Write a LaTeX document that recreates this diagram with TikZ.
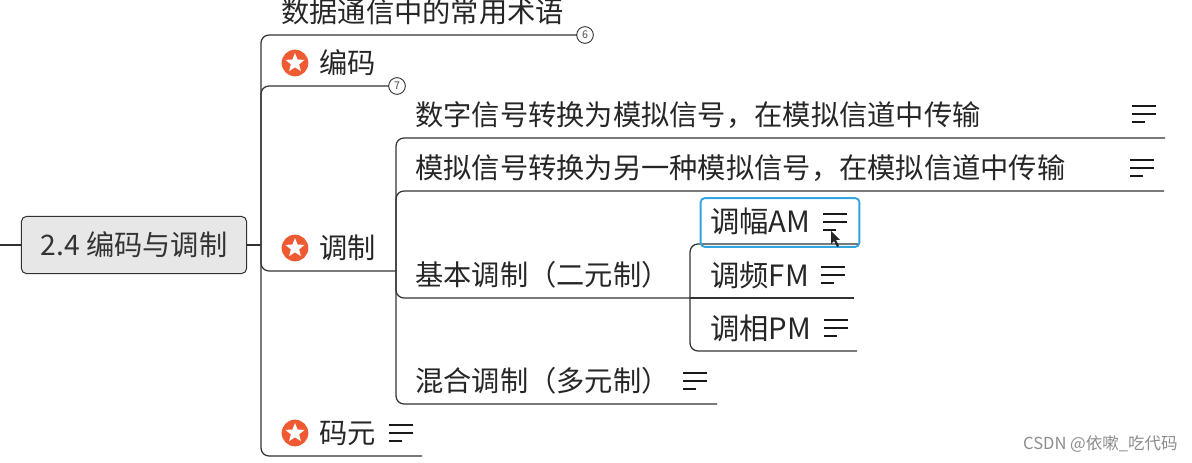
\documentclass[tikz,border=0pt]{standalone}
\usepackage{fontspec}
\setmainfont{Noto Sans CJK SC}
\usepackage{xcolor}
\usetikzlibrary{shapes.geometric}
\definecolor{lineC}{RGB}{50,50,50}
\definecolor{rootbg}{RGB}{231,231,231}
\definecolor{starC}{RGB}{240,90,50}
\definecolor{selC}{RGB}{50,165,225}
\tikzset{
  topic/.style={anchor=west,inner sep=0pt,font=\fontsize{21.2}{24}\selectfont,text=black!85},
  subtopic/.style={topic,font=\fontsize{21.2}{24}\selectfont},
  leaftopic/.style={topic,font=\fontsize{22}{24}\selectfont},
  root/.style={rounded corners=4pt,draw=lineC,fill=rootbg,line width=0.75pt,
               minimum width=169pt,minimum height=43pt,inner sep=0pt,
               font=\fontsize{21.2}{24}\selectfont,text=black!80},
  branch/.style={draw=lineC,line width=0.95pt,rounded corners=6pt},
  fold/.style={circle,draw=lineC,fill=white,line width=0.7pt,minimum size=12.5pt,inner sep=0pt,
               font=\fontsize{8}{8}\selectfont,text=black!70},
  badge/.style={circle,fill=starC,minimum size=20pt,inner sep=0pt},
  badgestar/.style={star,star points=5,star point ratio=2.3,fill=white,minimum size=15pt,inner sep=0pt},
  selbox/.style={rounded corners=3pt,draw=selC,line width=1.4pt,minimum width=119pt,minimum height=36.5pt,inner sep=0pt},
  notes/.pic={
    \draw[line width=1.2pt,black!90] (-12,-8) -- (12,-8) (-12,0) -- (12,0) (-12,8) -- (1,8);
  },
  mark text/.style={anchor=east,inner sep=0pt,font=\fontsize{12.4}{15}\selectfont,text=black!45},
}
\begin{document}
\begin{tikzpicture}[x=0.75pt,y=-0.75pt]
  \useasboundingbox (0,0) rectangle (1192,463);
  % root and level one
  \coordinate (stub) at (0,245);
  \node[root] (rt) at (134,245) {2.4 编码与调制};
  \coordinate (trunk) at (261,245);
  \coordinate (l1a) at (577,35);
  \coordinate (l1b) at (390,86);
  \coordinate (l1c) at (396,271);
  \coordinate (l1d) at (422,456);
  \draw[draw=lineC,line width=0.95pt] (stub) -- (rt.west) (rt.east) -- (trunk);
  \draw[branch] (trunk) |- (l1a);
  \draw[branch] (trunk) |- (l1b);
  \draw[branch] (trunk) |- (l1c);
  \draw[branch] (trunk) |- (l1d);
  \node[fold] (f6) at (585,35) {6};
  \node[fold] (f7) at (397,86) {7};
  % level two
  \coordinate (l2a) at (1165,138);
  \coordinate (l2b) at (1164,191);
  \coordinate (l2c) at (690,298);
  \coordinate (l2d) at (717,404);
  \draw[branch] (l1c) |- (l2a);
  \draw[branch] (l1c) |- (l2b);
  \draw[branch] (l1c) |- (l2d);
  \draw[branch] (l1c) |- (l2c);
  % level three
  \coordinate (l3a) at (858,244);
  \coordinate (l3b) at (854,298);
  \coordinate (l3c) at (857,351);
  \draw[branch] (l2c) |- (l3a);
  \draw[draw=lineC,line width=0.95pt] (l2c) -- (l3b);
  \draw[branch] (l2c) |- (l3c);
  \node[selbox] (sel) at (780,222.5) {};
  % texts
  \node[topic] (title) at (281,12) {数据通信中的常用术语};
  \node[topic] (bianma) at (319,63) {编码};
  \node[topic] (tiaozhi) at (319,248) {调制};
  \node[topic] (maoyuan) at (319,433) {码元};
  \node[subtopic] (sa) at (415,115) {数字信号转换为模拟信号，在模拟信道中传输};
  \node[subtopic] (sb) at (415,168) {模拟信号转换为另一种模拟信号，在模拟信道中传输};
  \node[subtopic] (sc) at (415,275) {基本调制（二元制）};
  \node[subtopic] (sd) at (415,381) {混合调制（多元制）};
  \node[leaftopic] (ta) at (710,221) {调幅AM};
  \node[leaftopic] (tb) at (710,275) {调频FM};
  \node[leaftopic] (tc) at (710,328) {调相PM};
  % icons
  \foreach \nm/\yy in {bianma/63,tiaozhi/248,maoyuan/433}{
    \node[badge] (b\nm) at (295,\yy) {};
    \node[badgestar] at (b\nm) {};
  }
  \pic at (1144,114) {notes};
  \pic at (1142,168) {notes};
  \pic at (835,222) {notes};
  \pic at (833,275) {notes};
  \pic at (836,328) {notes};
  \pic at (695,381) {notes};
  \pic at (401,433) {notes};
  % cursor
  \fill[black!85] (831,231) -- (831,244) -- (834,241) -- (837,247) -- (839,246) -- (836,240) -- (840,240) -- cycle;
  \node[mark text] (mark) at (1178,444) {CSDN @依嗽\_吃代码};
\end{tikzpicture}
\end{document}
